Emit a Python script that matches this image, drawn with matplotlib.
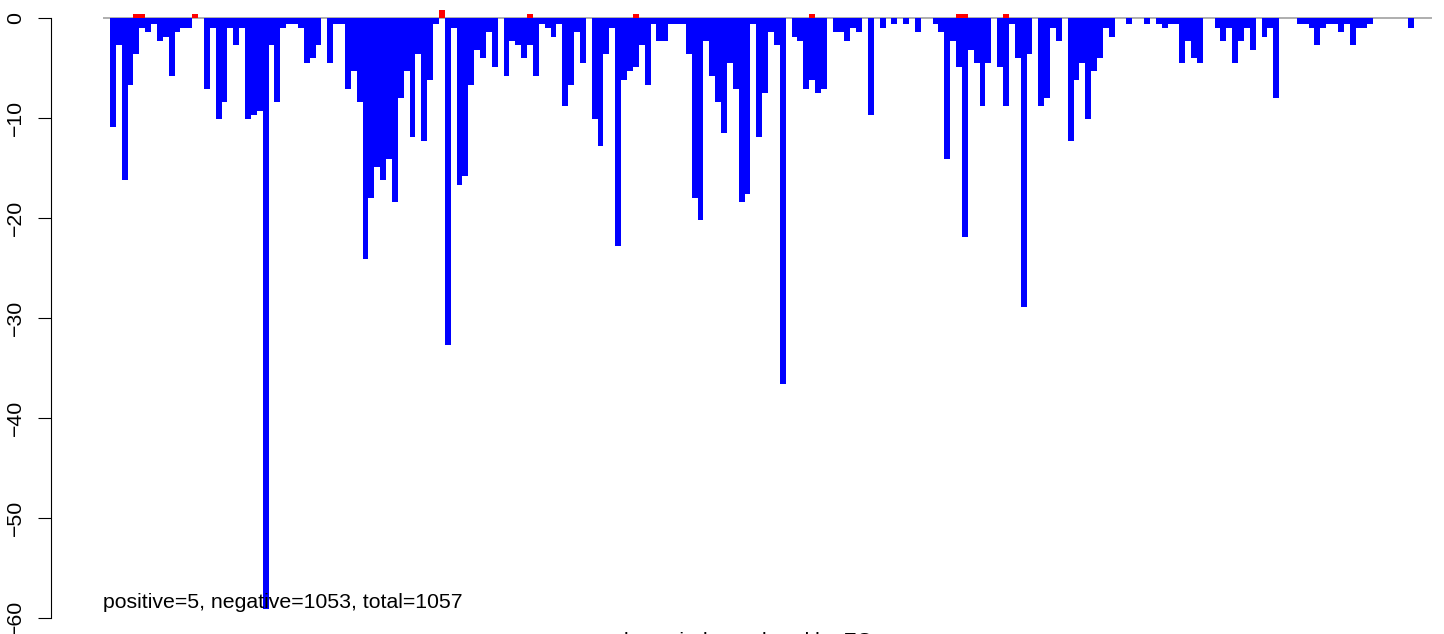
import matplotlib
matplotlib.use("Agg")
import matplotlib.pyplot as plt

# column heights, left to right (one entry per drawn column)
neg_vals = [
    -10.9, -2.7, -16.2, -6.7, -3.6, -1.0, -1.4, -0.6, -2.3, -1.9,
    -5.8, -1.4, -1.0, -1.0, 0, 0, -7.1, -1.0, -10.1, -8.4,
    -1.0, -2.7, -1.0, -10.1, -9.7, -9.3, -59.1, -2.7, -8.4, -1.0,
    -0.6, -0.6, -1.0, -4.5, -4.0, -2.7, 0, -4.5, -0.6, -0.6,
    -7.1, -5.3, -8.4, -24.1, -18.0, -14.9, -16.2, -14.1, -18.4, -8.0,
    -5.3, -11.9, -3.6, -12.3, -6.2, -0.6, 0, -32.7, -1.0, -16.7,
    -15.8, -6.7, -3.2, -4.0, -1.4, -4.9, 0, -5.8, -2.3, -2.7,
    -4.0, -2.7, -5.8, -0.6, -1.0, -1.9, -0.6, -8.8, -6.7, -1.4,
    -4.5, 0, -10.1, -12.8, -3.6, -1.0, -22.8, -6.2, -5.3, -4.9,
    -2.7, -6.7, -0.6, -2.3, -2.3, -0.6, -0.6, -0.6, -3.6, -18.0,
    -20.2, -2.3, -5.8, -8.4, -11.5, -4.5, -7.1, -18.4, -17.6, -0.6,
    -11.9, -7.5, -1.4, -2.7, -36.6, 0, -1.9, -2.3, -7.1, -6.2,
    -7.5, -7.1, 0, -1.4, -1.4, -2.3, -1.0, -1.4, 0, -9.7,
    0, -1.0, 0, -0.6, 0, -0.6, 0, -1.4, 0, 0,
    -0.6, -1.4, -14.1, -2.3, -4.9, -21.9, -3.2, -4.5, -8.8, -4.5,
    0, -4.9, -8.8, -0.6, -4.0, -28.9, -3.6, 0, -8.8, -8.0,
    -1.0, -2.3, 0, -12.3, -6.2, -4.5, -10.1, -5.3, -4.0, -1.0,
    -1.9, 0, 0, -0.6, 0, 0, -0.6, 0, -0.6, -1.0,
    -0.6, -0.6, -4.5, -2.3, -4.0, -4.5, 0, 0, -1.0, -2.3,
    -1.0, -4.5, -2.3, -1.0, -3.2, 0, -1.9, -1.0, -8.0, 0,
    0, 0, -0.6, -0.6, -1.0, -2.7, -1.0, -0.6, -0.6, -1.4,
    -0.6, -2.7, -1.0, -1.0, -0.6, 0, 0, 0, 0, 0,
    0, -1.0,
]
pos_idx = [4, 5, 14, 56, 71, 89, 119, 144, 145, 152]
pos_vals = [0.4, 0.4, 0.4, 0.8, 0.4, 0.4, 0.4, 0.4, 0.4, 0.4]

n_pos, n_neg, n_total = 5, 1053, 1057
y_ticks = [0, -10, -20, -30, -40, -50, -60]
x_label = "locus index ordered by FC"

fig = plt.figure(figsize=(14.44, 6.34), dpi=100)
ax = fig.add_axes([51 / 1444, 0, 1 - 51 / 1444, 1])

xs = list(range(len(neg_vals)))
ax.bar(xs, neg_vals, width=1.0, align="edge", color="#0000ff",
       linewidth=0, antialiased=False, zorder=2)
ax.bar(pos_idx, pos_vals, width=1.0, align="edge", color="#ff0000",
       linewidth=0, antialiased=False, zorder=2)
ax.hlines(0, -1.2, 225.0, color="#999999", linewidth=1.1, zorder=1)

ax.set_xlim(-10.04, 227.06)
ax.set_ylim(-61.57, 1.83)

for side in ["top", "right", "bottom"]:
    ax.spines[side].set_visible(False)
ax.spines["left"].set_bounds(-60, 0)
ax.spines["left"].set_linewidth(0.8)
ax.set_xticks([])
ax.set_yticks(y_ticks)
ax.set_yticklabels([str(t).replace("-", "\u2212") for t in y_ticks],
                   rotation=90, va="center", fontsize=15.3,
                   family="Liberation Sans")
ax.tick_params(axis="y", length=9.4, width=0.8, pad=9)

ax.text(-1.19, -58.97,
        f"positive={n_pos}, negative={n_neg}, total={n_total}",
        ha="left", va="baseline", fontsize=15.3, family="Liberation Sans")

# axis title sits mostly below the bottom edge, as in the original crop
fig.text(748 / 1444, 1 - 632 / 634, x_label, ha="center", va="top",
         fontsize=15.3, family="Liberation Sans")

fig.savefig("out.png", dpi=100)
